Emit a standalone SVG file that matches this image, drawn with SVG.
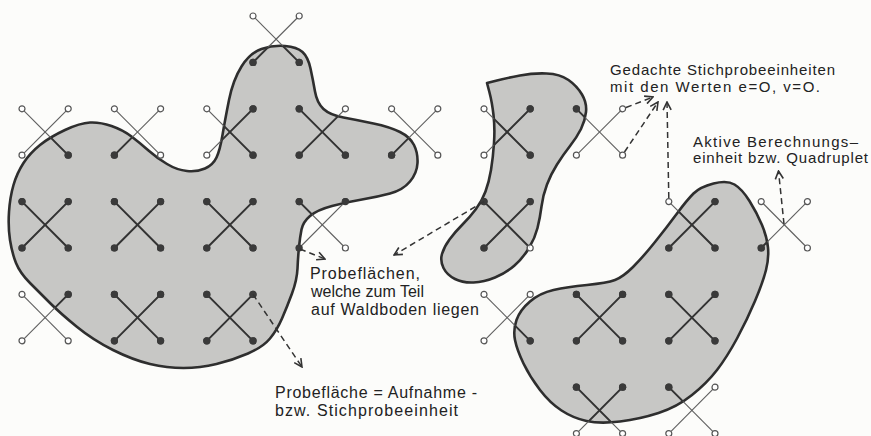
<svg xmlns="http://www.w3.org/2000/svg" xmlns:xlink="http://www.w3.org/1999/xlink" width="871" height="436" viewBox="0 0 871 436">
<style>
.bg{fill:#fcfcfa}
.area{fill:#c7c7c5;stroke:none}
.edge{fill:none;stroke:#2e2e2e;stroke-width:2.6;stroke-linejoin:round}
.outer{stroke:#5e5e5e;stroke-width:1.1;fill:none}
.inner{stroke:#333;stroke-width:1.9;fill:none}
circle.o{fill:#fff;stroke:#555;stroke-width:1.2}
circle.f{fill:#3a3a3a;stroke:none}
.arr{fill:none;stroke:#333;stroke-width:1.5;stroke-dasharray:6 4}
.lbl{font-family:"Liberation Sans",Arial,sans-serif;font-size:16px;fill:#222}
.lbl.s{font-size:15px}
</style>
<defs>
<path id="blob1" d="M40,145 Q50,137 65,130 Q80,123 90,122.5 Q100,122 111.5,126 Q123,130 131.5,136.5 Q140,143 148.5,150.5 Q157,158 167,164 Q177,170 187,171 Q197,172 205,168.5 Q213,165 216.5,157.5 Q220,150 222.5,135 Q225,120 229,100 Q233,80 241.5,66.5 Q250,53 261.5,49 Q273,45 285,46 Q297,47 302.5,52 Q308,57 310.5,68.5 Q313,80 315,91.5 Q317,103 323.5,109 Q330,115 343.5,117.5 Q357,120 373.5,123.5 Q390,127 400,132 Q410,137 414,145 Q418,153 417.5,163 Q417,173 410,181.5 Q403,190 390,193.5 Q377,197 362,199.5 Q347,202 332,206 Q317,210 310,216 Q303,222 301.5,229.5 Q300,237 299,247 Q298,257 297.5,268.5 Q297,280 292,293.5 Q287,307 282,318.5 Q277,330 270,338.5 Q263,347 248,353.5 Q233,360 216.5,364 Q200,368 183.5,368 Q167,368 150,364 Q133,360 113,350 Q93,340 76.5,326.5 Q60,313 50,303 Q40,293 30,283 Q20,273 16,263 Q12,253 10,240 Q8,227 9,212 Q10,197 13.5,185 Q17,173 23.5,163 Q30,153 40,145 Z"/>
<path id="blob2" d="M487,83 L497,80.5 Q507,78 520,75.5 Q533,73 546.5,73.5 Q560,74 568.5,80 Q577,86 582,94.5 Q587,103 586,112 Q585,121 581,129 Q577,137 570,146 Q563,155 557,164.5 Q551,174 547,184.5 Q543,195 541.5,206.5 Q540,218 537.5,228 Q535,238 529,248 Q523,258 514.5,265.5 Q506,273 495,277.5 Q484,282 473.5,282.5 Q463,283 455,279 Q447,275 443.5,268 Q440,261 442,254 Q444,247 449.5,239.5 Q455,232 462.5,224.5 Q470,217 476,209 Q482,201 485.5,191.5 Q489,182 491,170 Q493,158 494,143 Q495,128 493.5,115 Q492,102 489.5,92.5 L487,83 Z"/>
<path id="blob3" d="M693.5,193.5 Q700,187 713.5,183.5 Q727,180 734.5,184.5 Q742,189 749.5,201 Q757,213 762,225 Q767,237 768,247.5 Q769,258 766,270 Q763,282 755,301 Q747,320 737,338.5 Q727,357 717,370 Q707,383 692,395 Q677,407 658.5,413 Q640,419 620,421.5 Q600,424 586.5,421 Q573,418 561.5,410.5 Q550,403 540,390 Q530,377 523.5,363.5 Q517,350 515,340 Q513,330 516.5,320 Q520,310 530,301.5 Q540,293 553.5,290 Q567,287 587,285 Q607,283 615,280 Q623,277 633,267 Q643,257 655,242 Q667,227 677,213.5 Q687,200 693.5,193.5 Z"/>
<clipPath id="forestClip">
<use xlink:href="#blob1" href="#blob1"/>
<use xlink:href="#blob2" href="#blob2"/>
<use xlink:href="#blob3" href="#blob3"/>
</clipPath>
<g id="xcross">
<line x1="0" y1="0" x2="46.2" y2="46.4"/>
<line x1="46.2" y1="0" x2="0" y2="46.4"/>
</g>
<marker id="ah" viewBox="0 0 10 10" refX="9" refY="5" markerWidth="10" markerHeight="10" markerUnits="userSpaceOnUse" orient="auto">
<path d="M1,1 L9,5 L1,9" fill="none" stroke="#333" stroke-width="1.6" stroke-dasharray="none"/>
</marker>
</defs>
<rect class="bg" x="0" y="0" width="871" height="436"/>
<g id="forest-areas">
<use class="area" xlink:href="#blob1" href="#blob1"/>
<use class="area" xlink:href="#blob2" href="#blob2"/>
<use class="area" xlink:href="#blob3" href="#blob3"/>
</g>
<g id="forest-edges">
<use class="edge" xlink:href="#blob1" href="#blob1"/>
<use class="edge" xlink:href="#blob2" href="#blob2"/>
<use class="edge" xlink:href="#blob3" href="#blob3"/>
</g>
<g class="outer">
<g id="quadruplets">
<g id="q-c5r0" transform="translate(253,16)"><use xlink:href="#xcross" href="#xcross"/><circle class="o" cx="0" cy="0" r="3"/><circle class="o" cx="46.2" cy="0" r="3"/><circle class="f" cx="0" cy="46.4" r="3.6"/><circle class="f" cx="46.2" cy="46.4" r="3.6"/></g>
<g id="q-c0r2" transform="translate(22,108.8)"><use xlink:href="#xcross" href="#xcross"/><circle class="o" cx="0" cy="0" r="3"/><circle class="o" cx="46.2" cy="0" r="3"/><circle class="o" cx="0" cy="46.4" r="3"/><circle class="f" cx="46.2" cy="46.4" r="3.6"/></g>
<g id="q-c2r2" transform="translate(114.4,108.8)"><use xlink:href="#xcross" href="#xcross"/><circle class="o" cx="0" cy="0" r="3"/><circle class="o" cx="46.2" cy="0" r="3"/><circle class="f" cx="0" cy="46.4" r="3.6"/><circle class="o" cx="46.2" cy="46.4" r="3"/></g>
<g id="q-c4r2" transform="translate(206.8,108.8)"><use xlink:href="#xcross" href="#xcross"/><circle class="o" cx="0" cy="0" r="3"/><circle class="f" cx="46.2" cy="0" r="3.6"/><circle class="o" cx="0" cy="46.4" r="3"/><circle class="f" cx="46.2" cy="46.4" r="3.6"/></g>
<g id="q-c6r2" transform="translate(299.2,108.8)"><use xlink:href="#xcross" href="#xcross"/><circle class="f" cx="0" cy="0" r="3.6"/><circle class="o" cx="46.2" cy="0" r="3"/><circle class="f" cx="0" cy="46.4" r="3.6"/><circle class="f" cx="46.2" cy="46.4" r="3.6"/></g>
<g id="q-c8r2" transform="translate(391.6,108.8)"><use xlink:href="#xcross" href="#xcross"/><circle class="o" cx="0" cy="0" r="3"/><circle class="o" cx="46.2" cy="0" r="3"/><circle class="f" cx="0" cy="46.4" r="3.6"/><circle class="o" cx="46.2" cy="46.4" r="3"/></g>
<g id="q-c10r2" transform="translate(484,108.8)"><use xlink:href="#xcross" href="#xcross"/><circle class="o" cx="0" cy="0" r="3"/><circle class="f" cx="46.2" cy="0" r="3.6"/><circle class="o" cx="0" cy="46.4" r="3"/><circle class="f" cx="46.2" cy="46.4" r="3.6"/></g>
<g id="q-c12r2" transform="translate(576.4,108.8)"><use xlink:href="#xcross" href="#xcross"/><circle class="f" cx="0" cy="0" r="3.6"/><circle class="o" cx="46.2" cy="0" r="3"/><circle class="o" cx="0" cy="46.4" r="3"/><circle class="o" cx="46.2" cy="46.4" r="3"/></g>
<g id="q-c0r4" transform="translate(22,201.6)"><use xlink:href="#xcross" href="#xcross"/><circle class="f" cx="0" cy="0" r="3.6"/><circle class="f" cx="46.2" cy="0" r="3.6"/><circle class="f" cx="0" cy="46.4" r="3.6"/><circle class="f" cx="46.2" cy="46.4" r="3.6"/></g>
<g id="q-c2r4" transform="translate(114.4,201.6)"><use xlink:href="#xcross" href="#xcross"/><circle class="f" cx="0" cy="0" r="3.6"/><circle class="f" cx="46.2" cy="0" r="3.6"/><circle class="f" cx="0" cy="46.4" r="3.6"/><circle class="f" cx="46.2" cy="46.4" r="3.6"/></g>
<g id="q-c4r4" transform="translate(206.8,201.6)"><use xlink:href="#xcross" href="#xcross"/><circle class="f" cx="0" cy="0" r="3.6"/><circle class="f" cx="46.2" cy="0" r="3.6"/><circle class="f" cx="0" cy="46.4" r="3.6"/><circle class="f" cx="46.2" cy="46.4" r="3.6"/></g>
<g id="q-c6r4" transform="translate(299.2,201.6)"><use xlink:href="#xcross" href="#xcross"/><circle class="f" cx="0" cy="0" r="3.6"/><circle class="f" cx="46.2" cy="0" r="3.6"/><circle class="f" cx="0" cy="46.4" r="3.6"/><circle class="o" cx="46.2" cy="46.4" r="3"/></g>
<g id="q-c10r4" transform="translate(484,201.6)"><use xlink:href="#xcross" href="#xcross"/><circle class="f" cx="0" cy="0" r="3.6"/><circle class="f" cx="46.2" cy="0" r="3.6"/><circle class="f" cx="0" cy="46.4" r="3.6"/><circle class="o" cx="46.2" cy="46.4" r="3"/></g>
<g id="q-c14r4" transform="translate(668.8,201.6)"><use xlink:href="#xcross" href="#xcross"/><circle class="o" cx="0" cy="0" r="3"/><circle class="f" cx="46.2" cy="0" r="3.6"/><circle class="f" cx="0" cy="46.4" r="3.6"/><circle class="f" cx="46.2" cy="46.4" r="3.6"/></g>
<g id="q-c16r4" transform="translate(761.2,201.6)"><use xlink:href="#xcross" href="#xcross"/><circle class="o" cx="0" cy="0" r="3"/><circle class="o" cx="46.2" cy="0" r="3"/><circle class="f" cx="0" cy="46.4" r="3.6"/><circle class="o" cx="46.2" cy="46.4" r="3"/></g>
<g id="q-c0r6" transform="translate(22,294.4)"><use xlink:href="#xcross" href="#xcross"/><circle class="o" cx="0" cy="0" r="3"/><circle class="f" cx="46.2" cy="0" r="3.6"/><circle class="o" cx="0" cy="46.4" r="3"/><circle class="o" cx="46.2" cy="46.4" r="3"/></g>
<g id="q-c2r6" transform="translate(114.4,294.4)"><use xlink:href="#xcross" href="#xcross"/><circle class="f" cx="0" cy="0" r="3.6"/><circle class="f" cx="46.2" cy="0" r="3.6"/><circle class="f" cx="0" cy="46.4" r="3.6"/><circle class="f" cx="46.2" cy="46.4" r="3.6"/></g>
<g id="q-c4r6" transform="translate(206.8,294.4)"><use xlink:href="#xcross" href="#xcross"/><circle class="f" cx="0" cy="0" r="3.6"/><circle class="f" cx="46.2" cy="0" r="3.6"/><circle class="f" cx="0" cy="46.4" r="3.6"/><circle class="f" cx="46.2" cy="46.4" r="3.6"/></g>
<g id="q-c10r6" transform="translate(484,294.4)"><use xlink:href="#xcross" href="#xcross"/><circle class="o" cx="0" cy="0" r="3"/><circle class="o" cx="46.2" cy="0" r="3"/><circle class="o" cx="0" cy="46.4" r="3"/><circle class="f" cx="46.2" cy="46.4" r="3.6"/></g>
<g id="q-c12r6" transform="translate(576.4,294.4)"><use xlink:href="#xcross" href="#xcross"/><circle class="f" cx="0" cy="0" r="3.6"/><circle class="f" cx="46.2" cy="0" r="3.6"/><circle class="f" cx="0" cy="46.4" r="3.6"/><circle class="f" cx="46.2" cy="46.4" r="3.6"/></g>
<g id="q-c14r6" transform="translate(668.8,294.4)"><use xlink:href="#xcross" href="#xcross"/><circle class="f" cx="0" cy="0" r="3.6"/><circle class="f" cx="46.2" cy="0" r="3.6"/><circle class="f" cx="0" cy="46.4" r="3.6"/><circle class="f" cx="46.2" cy="46.4" r="3.6"/></g>
<g id="q-c12r8" transform="translate(576.4,387.2)"><use xlink:href="#xcross" href="#xcross"/><circle class="f" cx="0" cy="0" r="3.6"/><circle class="f" cx="46.2" cy="0" r="3.6"/><circle class="o" cx="0" cy="46.4" r="3"/><circle class="o" cx="46.2" cy="46.4" r="3"/></g>
<g id="q-c14r8" transform="translate(668.8,387.2)"><use xlink:href="#xcross" href="#xcross"/><circle class="f" cx="0" cy="0" r="3.6"/><circle class="o" cx="46.2" cy="0" r="3"/><circle class="o" cx="0" cy="46.4" r="3"/><circle class="o" cx="46.2" cy="46.4" r="3"/></g>
</g>
</g>
<use class="inner" xlink:href="#quadruplets" href="#quadruplets" clip-path="url(#forestClip)"/>
<g id="connectors">
<path class="arr" d="M300,249 L325,259" marker-end="url(#ah)"/>
<path class="arr" d="M484,201.6 L394,255" marker-end="url(#ah)"/>
<path class="arr" d="M253,294.4 L302,367" marker-end="url(#ah)"/>
<path class="arr" d="M626,107.5 L653,97" marker-end="url(#ah)"/>
<path class="arr" d="M624.5,152 L658,102" marker-end="url(#ah)"/>
<path class="arr" d="M668.8,198 L667,102" marker-end="url(#ah)"/>
<path class="arr" d="M784,224 L778.5,171" marker-end="url(#ah)"/>
</g>
<g id="labels">
<text class="lbl s" x="610" y="75" textLength="225" lengthAdjust="spacing">Gedachte Stichprobeeinheiten</text>
<text class="lbl s" x="610" y="92" textLength="210" lengthAdjust="spacing">mit den Werten e=O, v=O.</text>
<text class="lbl s" x="693" y="147" textLength="165" lengthAdjust="spacing">Aktive Berechnungs–</text>
<text class="lbl s" x="693" y="163" textLength="175" lengthAdjust="spacing">einheit bzw. Quadruplet</text>
<text class="lbl" x="310" y="279" textLength="110" lengthAdjust="spacing">Probeflächen,</text>
<text class="lbl" x="311" y="297" textLength="113" lengthAdjust="spacing">welche zum Teil</text>
<text class="lbl" x="311" y="315" textLength="168" lengthAdjust="spacing">auf Waldboden liegen</text>
<text class="lbl" x="275" y="398" textLength="202" lengthAdjust="spacing">Probefläche = Aufnahme -</text>
<text class="lbl" x="275" y="416" textLength="183" lengthAdjust="spacing">bzw. Stichprobeeinheit</text>
</g>
</svg>
